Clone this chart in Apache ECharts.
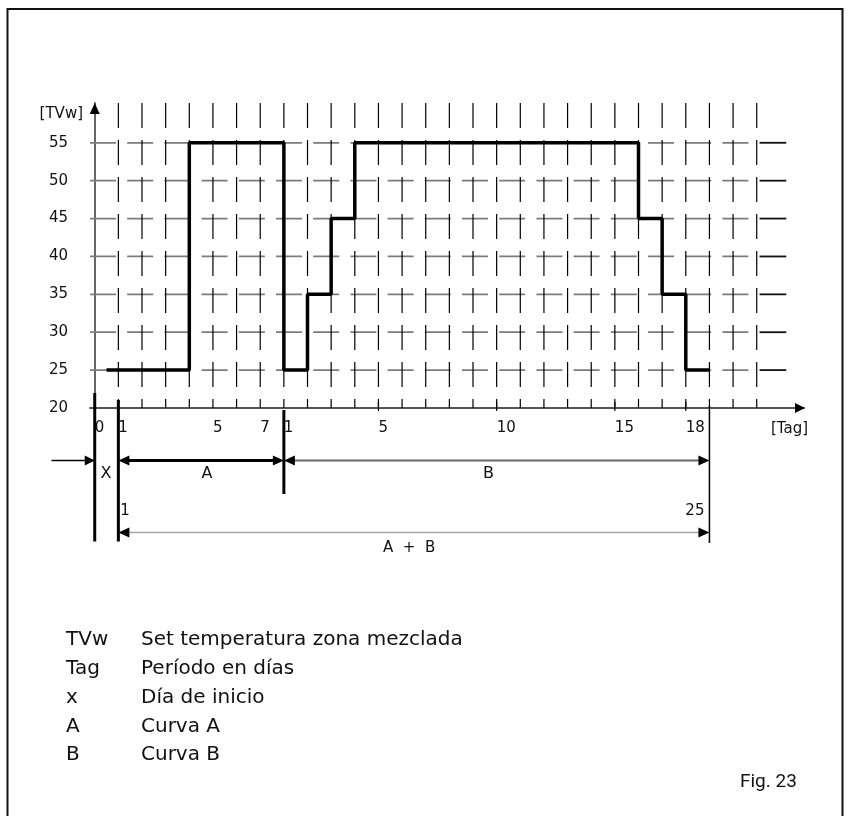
<!DOCTYPE html>
<html>
<head>
<meta charset="utf-8">
<script src="https://cdn.jsdelivr.net/npm/echarts@6/dist/echarts.min.js"></script>
<style>
  html, body { margin: 0; padding: 0; background: #fff; }
  #chart { width: 850px; height: 816px; }
</style>
</head>
<body>
<div id="chart"></div>
<script>
// Mixing-zone set temperature (TVw) over a two-phase programme: curve A, then curve B.
// Time is counted in days from the start day x (position 0).

const yTicks = [20, 25, 30, 35, 40, 45, 50, 55];
const gridRows = [25, 30, 35, 40, 45, 50, 55];
const gridCols = [1, 2, 3, 4, 5, 6, 7, 8, 9, 10, 11, 12, 13, 14, 15, 16, 17, 18, 19, 20, 21, 22, 23, 24, 25, 26, 27, 28];

// Tick positions on the day axis and the day number printed there
const xTickPos = [0, 1, 5, 7, 8, 12, 17, 22, 25];
const xTickText = ['0', '1', '5', '7', '1', '5', '10', '15', '18'];
const crossTickPos = [12, 17, 22, 25];

// Set temperature per day
const curveA = [25, 25, 25, 55, 55, 55, 55];
const curveB = [25, 35, 45, 55, 55, 55, 55, 55, 55, 55, 55, 55, 55, 55, 55, 45, 35, 25];
const curveStart = 0.5;

// Phase boundaries (day positions)
const startDay = 0;
const phaseAStart = 1;
const phaseBStart = phaseAStart + curveA.length;
const phaseBEnd = phaseBStart + curveB.length;

const legendKeys = ['TVw', 'Tag', 'x', 'A', 'B'];
const legendTexts = ['Set temperatura zona mezclada', 'Período en días', 'Día de inicio', 'Curva A', 'Curva B'];

const Y_MIN = 20, Y_MAX = 60.25, X_MIN = -0.2, X_MAX = 30;
const LABEL_FONT = 'DejaVu Sans';
const NOTE_FONT = 'DejaVu Sans';

// Step points: each day's value holds until the next day starts
const stepPoints = [[curveStart, curveA[0]]];
curveA.forEach((v, i) => stepPoints.push([phaseAStart + i, v]));
curveB.forEach((v, i) => stepPoints.push([phaseBStart + i, v]));
stepPoints.push([phaseBEnd, curveB[curveB.length - 1]]);

function seg(x1, y1, x2, y2, stroke, w, dash) {
  return { type: 'line', shape: { x1, y1, x2, y2 },
    style: { stroke, lineWidth: w, lineDash: dash || null, fill: null } };
}
function head(tipX, tipY, dir, len, half) {
  let pts;
  if (dir === 'r') pts = [[tipX, tipY], [tipX - len, tipY - half], [tipX - len, tipY + half]];
  else if (dir === 'l') pts = [[tipX, tipY], [tipX + len, tipY - half], [tipX + len, tipY + half]];
  else pts = [[tipX, tipY], [tipX - half, tipY + len], [tipX + half, tipY + len]];
  return { type: 'polygon', shape: { points: pts }, style: { fill: '#000', stroke: null } };
}
function txt(x, y, text, align, size, family) {
  return { type: 'text', x, y,
    style: { text, fill: '#111', font: size + 'px "' + (family || LABEL_FONT) + '"',
      align: align || 'center', verticalAlign: 'middle' } };
}

function renderGrid(params, api) {
  const children = [];
  const top = api.coord([0, Y_MAX])[1];
  const bottom = api.coord([0, Y_MIN])[1];
  gridRows.forEach(v => {
    const y = api.coord([0, v])[1];
    const xl = api.coord([X_MIN, v])[0];
    const xr = api.coord([28.1, v])[0];
    children.push(seg(xl, y, xr, y, '#7c7c7c', 1.8, [26, 11.2]));
    children.push(seg(api.coord([28.12, v])[0], y, api.coord([29.25, v])[0], y, '#111', 1.8));
  });
  gridCols.forEach(t => {
    const x = api.coord([t, Y_MIN])[0];
    children.push(seg(x, top, x, bottom, '#000', 1.2, [25, 12]));
  });
  crossTickPos.forEach(t => {
    const x = api.coord([t, Y_MIN])[0];
    children.push(seg(x, bottom - 6, x, bottom + 3, '#000', 1.2));
  });
  return { type: 'group', children };
}

function renderNotes(params, api) {
  const c = [];
  const axisY = api.coord([0, Y_MIN])[1];
  const topY = api.coord([0, Y_MAX])[1];
  const xs = t => api.coord([t, Y_MIN])[0];
  const x0 = xs(startDay), xa = xs(phaseAStart), xb = xs(phaseBStart), xe = xs(phaseBEnd);
  const row1 = axisY + 52.5, row2 = axisY + 124.5;

  // axis arrowheads
  c.push(head(xs(X_MAX) + 1, axisY, 'r', 10, 5));
  c.push(head(x0, topY, 'u', 11, 5));

  // boundary markers below the axis
  c.push(seg(x0, axisY - 15, x0, axisY + 133.5, '#000', 3));
  c.push(seg(xa, axisY - 8, xa, axisY + 133.5, '#000', 3));
  c.push(seg(xb, axisY + 2, xb, axisY + 86, '#000', 3));
  c.push(seg(xe, axisY - 2, xe, axisY + 135, '#000', 1.5));

  // start day arrow
  c.push(seg(51.5, row1, x0 - 9, row1, '#000', 1.5));
  c.push(head(x0, row1, 'r', 10, 5));
  // phase A
  c.push(seg(xa + 8, row1, xb - 8, row1, '#000', 3));
  c.push(head(xa, row1, 'l', 11, 5));
  c.push(head(xb, row1, 'r', 11, 5));
  // phase B
  c.push(seg(xb + 8, row1, xe - 8, row1, '#6a6a6a', 2));
  c.push(head(xb, row1, 'l', 11, 5));
  c.push(head(xe, row1, 'r', 11, 5));
  // A + B
  c.push(seg(xa + 8, row2, xe - 8, row2, '#a8a8a8', 1.5));
  c.push(head(xa, row2, 'l', 11, 5));
  c.push(head(xe, row2, 'r', 11, 5));

  c.push(txt(xs(0.48), row1 + 13.5, 'X', 'center', 16));
  c.push(txt(xs(4.75), row1 + 13.5, 'A', 'center', 16));
  c.push(txt(xs(16.65), row1 + 13.5, 'B', 'center', 16));
  c.push(txt(xa + 2, row1 + 51, '1', 'left', 15));
  c.push(txt(xe - 5, row1 + 51, '25', 'right', 15));
  c.push(txt(xs(13.3), row2 + 15.5, 'A  +  B', 'center', 15));

  return { type: 'group', children: c };
}

const legendGraphics = [];
legendKeys.forEach((k, i) => {
  const y = 642 + i * 28.8;
  legendGraphics.push({ type: 'text', left: 66, top: y - 12,
    style: { text: k, fill: '#111', font: '20px "' + NOTE_FONT + '"' } });
  legendGraphics.push({ type: 'text', left: 141, top: y - 12,
    style: { text: legendTexts[i], fill: '#111', font: '20px "' + NOTE_FONT + '"' } });
});

const chart = echarts.init(document.getElementById('chart'), null, { renderer: 'canvas' });
chart.setOption({
  animation: false,
  backgroundColor: '#fff',
  grid: { left: 90, right: 46, top: 103, bottom: 408, containLabel: false },
  xAxis: {
    type: 'value', min: X_MIN, max: X_MAX,
    axisLine: { show: true, lineStyle: { color: '#555', width: 2 } },
    axisTick: { show: false },
    splitLine: { show: false },
    axisLabel: {
      customValues: xTickPos,
      formatter: v => { const i = xTickPos.indexOf(v); return i < 0 ? '' : xTickText[i]; },
      align: 'left', margin: 13, color: '#111',
      fontFamily: LABEL_FONT, fontSize: 15
    }
  },
  yAxis: {
    type: 'value', min: Y_MIN, max: Y_MAX, interval: 5,
    axisLine: { show: true, onZero: true, lineStyle: { color: '#666', width: 2 } },
    axisTick: { show: false },
    splitLine: { show: false },
    axisLabel: {
      formatter: v => (yTicks.indexOf(v) >= 0 ? String(v) : ''),
      margin: 22, color: '#111', fontFamily: LABEL_FONT, fontSize: 15
    }
  },
  graphic: [
    { type: 'rect', shape: { x: 7.5, y: 9, width: 835, height: 900 },
      style: { fill: null, stroke: '#111', lineWidth: 2 }, z: 100 },
    { type: 'text', right: 850 - 83, top: 107,
      style: { text: '[TVw]', fill: '#111', font: '15px "' + LABEL_FONT + '"' } },
    { type: 'text', left: 771, top: 422,
      style: { text: '[Tag]', fill: '#111', font: '15px "' + LABEL_FONT + '"' } },
    { type: 'text', left: 740, top: 773,
      style: { text: 'Fig. 23', fill: '#111', font: '19px "Roboto"' } }
  ].concat(legendGraphics),
  series: [
    { type: 'custom', name: 'grid', renderItem: renderGrid, data: [[0, Y_MIN]],
      clip: false, silent: true, z: 1 },
    { type: 'line', name: 'TVw', data: stepPoints, step: 'end', showSymbol: false,
      symbol: 'none', lineStyle: { color: '#000', width: 3.5 }, z: 5, silent: true },
    { type: 'custom', name: 'notes', renderItem: renderNotes, data: [[0, Y_MIN]],
      clip: false, silent: true, z: 6 }
  ]
});
</script>
</body>
</html>
